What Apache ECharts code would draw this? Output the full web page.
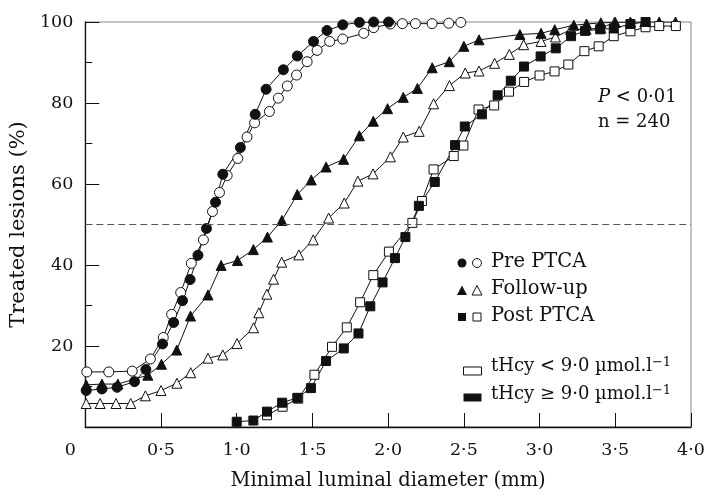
<!DOCTYPE html>
<html>
<head>
<meta charset="utf-8">
<script src="https://cdn.jsdelivr.net/npm/echarts@6/dist/echarts.min.js"></script>
<style>html,body{margin:0;padding:0;background:#fff}#c{width:709px;height:496px}</style>
</head>
<body>
<div id="c"></div>
<script>
// ---- data ----
var xTicks = [0, 0.5, 1.0, 1.5, 2.0, 2.5, 3.0, 3.5, 4.0];
var yTicks = [20, 40, 60, 80, 100];

var preLow = [[0.01,13.6],[0.155,13.6],[0.31,13.8],[0.43,16.8],[0.515,22.1],[0.57,27.8],[0.63,33.2],[0.70,40.4],[0.78,46.2],[0.84,53.2],[0.886,57.9],[0.937,62.1],[1.007,66.3],[1.068,71.6],[1.118,75.1],[1.216,77.9],[1.275,81.2],[1.334,84.2],[1.395,86.9],[1.465,90.2],[1.531,93.0],[1.614,95.2],[1.70,95.8],[1.839,97.2],[1.904,98.6],[2.014,99.5],[2.094,99.6],[2.18,99.6],[2.29,99.6],[2.40,99.7],[2.48,99.9]];
var preHigh = [[0.006,9.0],[0.11,9.4],[0.21,9.8],[0.325,11.2],[0.40,14.2],[0.51,20.5],[0.583,25.8],[0.642,31.2],[0.692,36.4],[0.744,42.4],[0.80,49.0],[0.86,55.5],[0.908,62.4],[1.024,69.0],[1.122,77.2],[1.194,83.4],[1.308,88.2],[1.40,91.6],[1.507,95.2],[1.596,97.9],[1.70,99.3],[1.81,99.9],[1.904,100],[2.003,100]];
var fuLow = [[0.006,5.8],[0.098,5.8],[0.203,5.8],[0.30,5.8],[0.397,7.7],[0.50,9.0],[0.605,10.8],[0.696,13.4],[0.81,17.0],[0.908,17.8],[1.002,20.6],[1.111,24.5],[1.146,28.2],[1.199,32.8],[1.243,36.5],[1.297,40.7],[1.41,42.5],[1.505,46.2],[1.607,51.6],[1.71,55.3],[1.80,60.7],[1.90,62.5],[2.015,66.7],[2.10,71.6],[2.205,73.0],[2.30,79.8],[2.405,84.3],[2.509,87.4],[2.60,87.9],[2.703,89.8],[2.80,92.0],[2.895,94.4],[3.01,95.2],[3.105,96.3],[3.205,98.1],[3.307,98.2],[3.405,98.5],[3.495,99.9]];
var fuHigh = [[0.006,10.4],[0.11,10.6],[0.215,10.6],[0.413,12.8],[0.503,15.5],[0.604,19.0],[0.695,27.4],[0.81,32.6],[0.897,39.9],[1.005,41.1],[1.11,43.8],[1.203,46.9],[1.298,51.0],[1.40,57.4],[1.492,61.0],[1.59,64.2],[1.706,66.1],[1.81,71.9],[1.902,75.5],[1.996,78.6],[2.10,81.4],[2.193,83.6],[2.291,88.7],[2.404,90.2],[2.50,94.0],[2.60,95.6],[2.87,96.9],[3.01,97.2],[3.10,98.1],[3.226,99.2],[3.31,99.5],[3.405,99.8],[3.50,99.9],[3.60,100],[3.695,100],[3.79,100],[3.898,100]];
var postLow = [[1.2,2.9],[1.303,5.0],[1.406,7.0],[1.513,12.9],[1.629,19.8],[1.727,24.6],[1.815,30.8],[1.902,37.5],[2.005,43.3],[2.16,50.4],[2.223,55.8],[2.30,63.6],[2.433,66.9],[2.497,69.5],[2.597,78.4],[2.70,79.4],[2.798,82.8],[2.898,85.2],[3.0,86.8],[3.099,87.8],[3.19,89.5],[3.296,92.8],[3.39,94.0],[3.49,96.5],[3.60,97.7],[3.70,98.7],[3.79,99.0],[3.90,99.0]];
var postHigh = [[1.0,1.3],[1.11,1.6],[1.2,3.8],[1.30,6.0],[1.40,7.2],[1.49,9.6],[1.59,16.3],[1.707,19.4],[1.804,23.1],[1.882,29.8],[1.963,35.7],[2.045,41.7],[2.114,46.9],[2.203,54.6],[2.308,60.5],[2.442,69.6],[2.506,74.2],[2.619,77.2],[2.723,81.9],[2.81,85.5],[2.897,89.0],[3.007,91.5],[3.107,93.5],[3.208,96.5],[3.30,97.8],[3.40,98.2],[3.49,98.4],[3.60,99.5],[3.70,100]];
var refLine = 50;

var FONT = 'DejaVu Serif';
function mk(name, data, symbol, filled, size) {
  return {
    name: name, type: 'line', data: data, symbol: symbol, symbolSize: size,
    showSymbol: true, animation: false,
    lineStyle: { color: '#111', width: 1 },
    itemStyle: filled ? { color: '#111', borderColor: '#111', borderWidth: 1 }
                      : { color: '#fff', borderColor: '#111', borderWidth: 1 },
    emphasis: { disabled: true }, z: 3
  };
}
var series = [
  mk('Pre PTCA low', preLow, 'circle', false, 10),
  mk('Pre PTCA high', preHigh, 'circle', true, 10),
  mk('Follow-up low', fuLow, 'triangle', false, 10),
  mk('Follow-up high', fuHigh, 'triangle', true, 10),
  mk('Post PTCA low', postLow, 'rect', false, 9),
  mk('Post PTCA high', postHigh, 'rect', true, 9)
];
series[0].markLine = {
  silent: true, symbol: 'none', animation: false, label: { show: false },
  lineStyle: { color: '#555', width: 1, type: [7, 4] },
  data: [{ yAxis: refLine }]
};

var chart = echarts.init(document.getElementById('c'), null, { renderer: 'canvas' });
var lx = 462, lx2 = 477, tx = 491;
chart.setOption({
  animation: false,
  backgroundColor: '#fff',
  textStyle: { fontFamily: FONT },
  grid: { left: 80, right: 18, top: 22, bottom: 57, show: true, borderColor: '#888', borderWidth: 1 },
  xAxis: {
    type: 'value', min: xTicks[0], max: xTicks[xTicks.length - 1], interval: 0.5,
    name: 'Minimal luminal diameter (mm)', nameLocation: 'middle', nameGap: 44,
    nameTextStyle: { fontFamily: FONT, fontSize: 19.5, color: '#111' },
    axisLine: { lineStyle: { color: '#111', width: 1.3 } },
    axisTick: { inside: true, length: 14, lineStyle: { color: '#111' } },
    splitLine: { show: false },
    axisLabel: {
      margin: 14, fontFamily: FONT, fontSize: 17.5, color: '#111',
      formatter: function (v) { return v === 0 ? '{z|0}' : v.toFixed(1).replace('.', '\u00B7'); },
      rich: { z: { fontFamily: FONT, fontSize: 17.5, color: '#111', padding: [0, 30, 0, 0] } }
    }
  },
  yAxis: {
    type: 'value', min: 0, max: yTicks[yTicks.length - 1], interval: 20,
    name: 'Treated lesions (%)', nameLocation: 'middle', nameGap: 52,
    nameTextStyle: { fontFamily: FONT, fontSize: 21, color: '#111' },
    axisLine: { lineStyle: { color: '#111', width: 1.3 } },
    axisTick: { inside: true, length: 14, lineStyle: { color: '#111' } },
    minorTick: { show: true, splitNumber: 2, length: 7, lineStyle: { color: '#111' } },
    splitLine: { show: false },
    axisLabel: {
      margin: 12, fontFamily: FONT, fontSize: 17.5, color: '#111',
      formatter: function (v) { return v === 0 ? '' : String(v); }
    }
  },
  series: series,
  graphic: [
    { type: 'circle', shape: { cx: lx, cy: 263, r: 4.5 }, style: { fill: '#111' } },
    { type: 'circle', shape: { cx: lx2, cy: 263, r: 4.5 }, style: { fill: '#fff', stroke: '#111', lineWidth: 1 } },
    { type: 'polygon', shape: { points: [[lx, 285.5], [lx - 5, 295], [lx + 5, 295]] }, style: { fill: '#111' } },
    { type: 'polygon', shape: { points: [[lx2, 285.5], [lx2 - 5, 295], [lx2 + 5, 295]] }, style: { fill: '#fff', stroke: '#111', lineWidth: 1 } },
    { type: 'rect', shape: { x: lx - 4, y: 313, width: 8, height: 8 }, style: { fill: '#111' } },
    { type: 'rect', shape: { x: lx2 - 4, y: 313, width: 8, height: 8 }, style: { fill: '#fff', stroke: '#111', lineWidth: 1 } },
    { type: 'rect', shape: { x: 463.5, y: 367, width: 18, height: 8 }, style: { fill: '#fff', stroke: '#111', lineWidth: 1 } },
    { type: 'rect', shape: { x: 463.5, y: 393.5, width: 18, height: 8 }, style: { fill: '#111' } },
    { type: 'text', left: tx, top: 252, style: { text: 'Pre PTCA', font: '19.5px "DejaVu Serif"', fill: '#111' } },
    { type: 'text', left: tx, top: 279, style: { text: 'Follow-up', font: '19.5px "DejaVu Serif"', fill: '#111' } },
    { type: 'text', left: tx, top: 306, style: { text: 'Post PTCA', font: '19.5px "DejaVu Serif"', fill: '#111' } },
    { type: 'text', left: tx, top: 356, style: {
        text: 'tHcy < 9\u00B70 \u00B5mol.l{s|\u22121}', fill: '#111', font: '18px "DejaVu Serif"',
        rich: { s: { fontFamily: FONT, fontSize: 13, verticalAlign: 'top', padding: [0, 0, 8, 0] } } } },
    { type: 'text', left: tx, top: 384, style: {
        text: 'tHcy \u2265 9\u00B70 \u00B5mol.l{s|\u22121}', fill: '#111', font: '18px "DejaVu Serif"',
        rich: { s: { fontFamily: FONT, fontSize: 13, verticalAlign: 'top', padding: [0, 0, 8, 0] } } } },
    { type: 'text', left: 598, top: 88, style: {
        text: '{i|P} < 0\u00B701', fill: '#111', font: '18px "DejaVu Serif"',
        rich: { i: { fontFamily: FONT, fontStyle: 'italic', fontSize: 18 } } } },
    { type: 'text', left: 598, top: 113, style: { text: 'n = 240', font: '18px "DejaVu Serif"', fill: '#111' } }
  ]
});
</script>
</body>
</html>
